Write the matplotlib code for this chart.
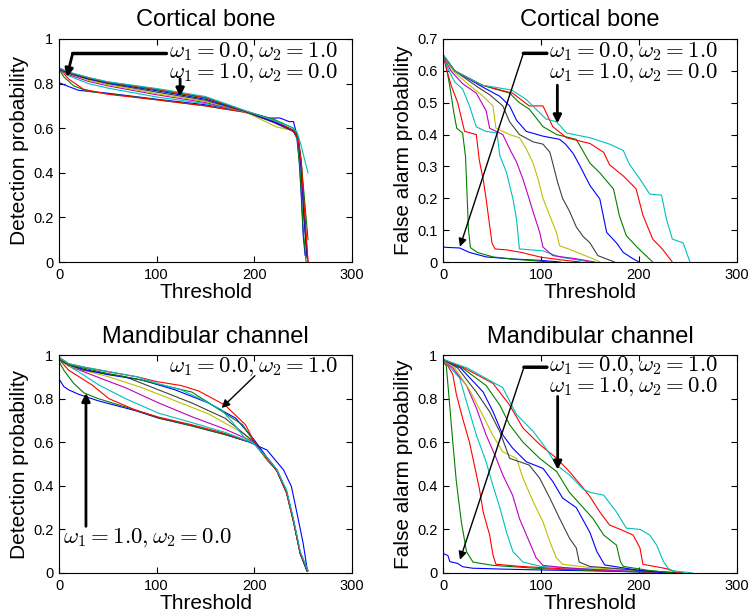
import matplotlib
matplotlib.use('Agg')
import matplotlib.pyplot as plt

plt.rcParams['font.family'] = ['Liberation Sans', 'DejaVu Sans']
plt.rcParams['mathtext.fontset'] = 'cm'

# MATLAB default colour order, 11 weightings (w1 = 1.0 ... 0.0)
colors = ['#0000ff', '#008000', '#ff0000', '#00bfbf', '#bf00bf', '#bfbf00',
          '#404040', '#0000ff', '#008000', '#ff0000', '#00bfbf']

# Cortical bone, detection probability
cort_det = [
    ([0, 5, 20, 50, 100, 150, 190, 215, 226, 236, 240, 243, 246, 248, 250, 252],
     [0.805, 0.795, 0.77, 0.757, 0.73, 0.705, 0.675, 0.645, 0.646, 0.629, 0.63, 0.58, 0.45, 0.3, 0.12, 0.03]),
    ([0, 5, 15, 30, 50, 100, 150, 190, 220, 240, 244, 247, 250, 253],
     [0.865, 0.83, 0.79, 0.765, 0.755, 0.728, 0.70, 0.672, 0.63, 0.59, 0.55, 0.4, 0.15, 0.0]),
    ([0, 10, 25, 50, 100, 150, 190, 220, 240, 245, 248, 251, 254, 255],
     [0.87, 0.82, 0.775, 0.752, 0.727, 0.70, 0.672, 0.63, 0.585, 0.55, 0.45, 0.25, 0.05, 0.0]),
    ([0, 10, 30, 50, 100, 150, 190, 220, 240, 245, 248, 251, 254],
     [0.865, 0.835, 0.80, 0.78, 0.74, 0.71, 0.675, 0.63, 0.59, 0.54, 0.4, 0.2, 0.02]),
    ([0, 10, 30, 50, 100, 150, 190, 220, 240, 245, 248, 251, 254],
     [0.865, 0.84, 0.81, 0.79, 0.75, 0.715, 0.675, 0.63, 0.59, 0.55, 0.42, 0.2, 0.02]),
    ([0, 10, 30, 50, 100, 150, 190, 223, 240, 245, 248, 251, 254],
     [0.865, 0.845, 0.815, 0.795, 0.755, 0.72, 0.675, 0.605, 0.59, 0.55, 0.42, 0.22, 0.03]),
    ([0, 10, 30, 50, 100, 150, 190, 220, 240, 245, 248, 251, 254],
     [0.865, 0.845, 0.82, 0.80, 0.762, 0.725, 0.676, 0.625, 0.585, 0.55, 0.42, 0.2, 0.02]),
    ([0, 10, 30, 50, 100, 150, 190, 220, 240, 245, 248, 251, 254],
     [0.865, 0.848, 0.822, 0.803, 0.768, 0.73, 0.677, 0.628, 0.59, 0.55, 0.42, 0.2, 0.03]),
    ([0, 10, 30, 50, 100, 150, 190, 220, 240, 245, 248, 251, 255],
     [0.87, 0.85, 0.825, 0.806, 0.772, 0.735, 0.678, 0.64, 0.60, 0.56, 0.45, 0.3, 0.1]),
    ([0, 10, 30, 50, 100, 150, 190, 220, 240, 245, 248, 251, 255],
     [0.87, 0.85, 0.826, 0.807, 0.775, 0.738, 0.678, 0.635, 0.59, 0.55, 0.45, 0.25, 0.0]),
    ([0, 10, 30, 50, 100, 150, 190, 220, 240, 244, 248, 252, 255],
     [0.87, 0.852, 0.828, 0.808, 0.778, 0.742, 0.68, 0.635, 0.60, 0.58, 0.52, 0.45, 0.40]),
]

# Cortical bone, false alarm probability
cort_fa = [
    ([0, 3, 17, 27, 44, 68, 100, 120],
     [0.047, 0.046, 0.044, 0.03, 0.016, 0.01, 0.005, 0.0]),
    ([0, 3, 7, 11, 14, 20, 23, 26, 28, 35, 51, 75, 110],
     [0.65, 0.62, 0.55, 0.47, 0.42, 0.405, 0.33, 0.1, 0.045, 0.03, 0.016, 0.008, 0.0]),
    ([0, 4, 8.5, 15, 22, 34, 37, 41, 44, 47.6, 50, 53, 65, 80, 100, 125, 140],
     [0.65, 0.6, 0.553, 0.50, 0.41, 0.40, 0.32, 0.26, 0.198, 0.114, 0.06, 0.041, 0.038, 0.03, 0.015, 0.005, 0.0]),
    ([0, 6, 12, 20, 27, 34, 44, 55, 58, 64.6, 68, 71.4, 75, 78, 102, 120, 150],
     [0.65, 0.6, 0.565, 0.543, 0.49, 0.424, 0.41, 0.405, 0.334, 0.283, 0.24, 0.198, 0.135, 0.041, 0.035, 0.015, 0.0]),
    ([0, 8, 20, 34, 44, 47.6, 61, 68, 75, 81.6, 86.7, 92, 98.6, 102, 112, 136, 155],
     [0.65, 0.6, 0.56, 0.53, 0.475, 0.42, 0.40, 0.355, 0.314, 0.26, 0.21, 0.157, 0.094, 0.047, 0.02, 0.01, 0.0]),
    ([0, 10, 25, 41, 51, 54, 68, 78, 85, 92, 97, 102, 109, 115.6, 119, 129, 153, 160],
     [0.65, 0.6, 0.56, 0.52, 0.49, 0.42, 0.40, 0.39, 0.355, 0.31, 0.26, 0.20, 0.145, 0.094, 0.051, 0.04, 0.01, 0.0]),
    ([0, 12, 35, 47.6, 61, 68, 78, 92, 102, 109, 112, 117, 122, 129, 136, 143, 150, 158, 175],
     [0.65, 0.6, 0.55, 0.525, 0.49, 0.44, 0.40, 0.377, 0.37, 0.345, 0.31, 0.25, 0.20, 0.16, 0.11, 0.08, 0.06, 0.02, 0.0]),
    ([0, 12, 40, 58, 68, 75, 85, 102, 119, 125, 133, 140, 145, 150, 160, 167, 177, 184, 194, 200],
     [0.65, 0.6, 0.55, 0.52, 0.49, 0.445, 0.41, 0.395, 0.385, 0.37, 0.34, 0.30, 0.27, 0.24, 0.198, 0.093, 0.06, 0.03, 0.01, 0.0]),
    ([0, 12, 40, 68, 78, 88, 102, 116, 136, 150, 160, 174, 180, 187, 197, 207, 214],
     [0.65, 0.6, 0.555, 0.53, 0.50, 0.48, 0.425, 0.40, 0.385, 0.31, 0.28, 0.229, 0.145, 0.083, 0.05, 0.02, 0.0]),
    ([0, 12, 40, 71, 88, 102, 112, 126, 150, 164, 170, 184, 197, 204, 214, 224, 234],
     [0.65, 0.6, 0.555, 0.53, 0.49, 0.49, 0.425, 0.39, 0.372, 0.344, 0.305, 0.27, 0.23, 0.147, 0.072, 0.04, 0.0]),
    ([0, 12, 40, 70, 85, 105, 116, 126, 150, 170, 184, 190, 201, 211, 223, 228, 234, 245, 252],
     [0.65, 0.6, 0.555, 0.54, 0.51, 0.449, 0.44, 0.405, 0.39, 0.37, 0.35, 0.308, 0.26, 0.213, 0.21, 0.135, 0.072, 0.06, 0.0]),
]

# Mandibular channel, detection probability
mand_det = [
    ([0, 5, 10, 20, 40, 78, 102, 136, 170, 195, 213, 230, 238, 243, 250, 254],
     [0.89, 0.855, 0.84, 0.82, 0.79, 0.745, 0.71, 0.675, 0.635, 0.6, 0.564, 0.472, 0.396, 0.289, 0.136, 0.02]),
    ([0, 5, 15, 25.6, 40, 78, 102, 136, 170, 200, 213, 223, 233, 240, 247, 254],
     [0.97, 0.93, 0.87, 0.826, 0.80, 0.748, 0.712, 0.675, 0.635, 0.595, 0.52, 0.47, 0.37, 0.24, 0.09, 0.01]),
    ([0, 10, 34, 51, 78, 102, 136, 170, 200, 213, 223, 233, 240, 247, 255],
     [0.98, 0.93, 0.862, 0.80, 0.748, 0.715, 0.68, 0.64, 0.595, 0.52, 0.47, 0.37, 0.24, 0.09, 0.01]),
    ([0, 10, 20, 41, 68, 102, 136, 170, 200, 213, 223, 233, 240, 247, 254],
     [0.98, 0.95, 0.923, 0.862, 0.80, 0.733, 0.69, 0.645, 0.595, 0.52, 0.47, 0.365, 0.235, 0.09, 0.01]),
    ([0, 10, 34, 68, 102, 136, 170, 200, 213, 223, 233, 240, 247, 254],
     [0.98, 0.95, 0.908, 0.85, 0.78, 0.717, 0.66, 0.6, 0.52, 0.47, 0.37, 0.24, 0.09, 0.01]),
    ([0, 10, 25, 51, 85, 119, 153, 185, 200, 213, 223, 233, 240, 247, 254],
     [0.98, 0.95, 0.93, 0.9, 0.85, 0.79, 0.73, 0.65, 0.6, 0.52, 0.47, 0.37, 0.24, 0.09, 0.01]),
    ([0, 10, 25, 68, 102, 136, 170, 200, 213, 223, 233, 240, 247, 254],
     [0.98, 0.955, 0.93, 0.9, 0.84, 0.78, 0.71, 0.6, 0.525, 0.47, 0.37, 0.24, 0.09, 0.01]),
    ([0, 10, 25, 50, 85, 119, 153, 181, 200, 213, 223, 233, 240, 247, 254],
     [0.98, 0.955, 0.935, 0.91, 0.885, 0.84, 0.78, 0.71, 0.61, 0.53, 0.475, 0.375, 0.245, 0.09, 0.01]),
    ([0, 10, 25, 50, 80, 102, 136, 164, 188, 200, 213, 223, 233, 240, 247, 254],
     [0.98, 0.955, 0.94, 0.915, 0.89, 0.866, 0.83, 0.75, 0.68, 0.6, 0.525, 0.47, 0.37, 0.24, 0.09, 0.01]),
    ([0, 10, 25, 50, 80, 100, 125, 143, 170, 191, 200, 213, 223, 233, 240, 247, 255],
     [0.99, 0.96, 0.945, 0.923, 0.9, 0.878, 0.86, 0.835, 0.77, 0.68, 0.60, 0.525, 0.47, 0.37, 0.24, 0.09, 0.01]),
    ([0, 10, 25, 50, 80, 100, 125, 144, 166, 178, 189, 200, 213, 223, 233, 240, 247, 255],
     [0.99, 0.96, 0.945, 0.925, 0.9, 0.87, 0.84, 0.80, 0.75, 0.69, 0.625, 0.59, 0.53, 0.475, 0.38, 0.25, 0.1, 0.01]),
]

# Mandibular channel, false alarm probability
mand_fa = [
    ([0, 5, 7, 15, 20, 30, 60, 100, 150, 200, 230],
     [0.09, 0.08, 0.052, 0.044, 0.029, 0.022, 0.018, 0.014, 0.01, 0.005, 0.0]),
    ([0, 3.4, 6.8, 10, 13.6, 18.7, 24, 30.6, 51, 100, 150, 200, 240],
     [0.97, 0.95, 0.77, 0.60, 0.42, 0.235, 0.098, 0.05, 0.035, 0.02, 0.012, 0.005, 0.0]),
    ([0, 5, 10, 13.6, 20, 27, 32, 37, 41, 47.6, 51, 54, 80, 120, 180, 240],
     [0.98, 0.95, 0.91, 0.82, 0.71, 0.60, 0.495, 0.39, 0.28, 0.174, 0.083, 0.04, 0.03, 0.02, 0.01, 0.0]),
    ([0, 8, 17, 24, 34, 44, 51, 58, 64.6, 71.4, 81.6, 100, 150, 200, 245],
     [0.98, 0.94, 0.894, 0.786, 0.633, 0.51, 0.40, 0.30, 0.19, 0.098, 0.05, 0.03, 0.018, 0.008, 0.0]),
    ([0, 10, 24, 34, 44, 54, 61, 71, 78, 88, 95, 102, 130, 180, 245],
     [0.98, 0.94, 0.86, 0.757, 0.633, 0.53, 0.45, 0.357, 0.25, 0.144, 0.07, 0.035, 0.022, 0.01, 0.0]),
    ([0, 12, 27, 41, 51, 61, 75, 81.6, 92, 102, 109, 115.6, 122, 150, 200, 245],
     [0.98, 0.94, 0.84, 0.72, 0.63, 0.556, 0.526, 0.435, 0.327, 0.235, 0.144, 0.07, 0.04, 0.025, 0.012, 0.0]),
    ([0, 15, 34, 47.6, 58, 68, 88, 98.6, 109, 119, 129, 136, 139, 150, 200, 245],
     [0.98, 0.94, 0.83, 0.74, 0.648, 0.526, 0.495, 0.435, 0.344, 0.25, 0.16, 0.115, 0.05, 0.03, 0.012, 0.0]),
    ([0, 18, 41, 51, 61, 71, 85, 102, 112, 122, 136, 150, 157, 165, 200, 230],
     [0.98, 0.94, 0.83, 0.74, 0.633, 0.573, 0.51, 0.48, 0.42, 0.344, 0.30, 0.185, 0.098, 0.037, 0.012, 0.0]),
    ([0, 20, 44, 58, 68, 81.6, 98.6, 116, 129, 143, 153, 164, 177, 181, 184, 210, 235],
     [0.98, 0.94, 0.86, 0.77, 0.68, 0.60, 0.526, 0.465, 0.37, 0.30, 0.25, 0.174, 0.128, 0.052, 0.03, 0.012, 0.0]),
    ([0, 22, 51, 68, 81.6, 98.6, 116, 129, 143, 150, 160, 170, 181, 194, 201, 204, 228, 240],
     [0.98, 0.94, 0.87, 0.77, 0.665, 0.59, 0.526, 0.465, 0.39, 0.35, 0.28, 0.22, 0.2, 0.174, 0.115, 0.04, 0.02, 0.0]),
    ([0, 25, 61, 75, 92, 105, 116, 129, 143, 150, 164, 177, 187, 201, 211, 218, 225, 230, 235, 255],
     [0.98, 0.94, 0.85, 0.727, 0.65, 0.572, 0.495, 0.45, 0.385, 0.37, 0.357, 0.28, 0.206, 0.2, 0.174, 0.128, 0.052, 0.02, 0.01, 0.0]),
]

label_a = r'$\omega_1 = 0.0, \omega_2 = 1.0$'
label_b = r'$\omega_1 = 1.0, \omega_2 = 0.0$'
label_ab = label_a + '\n' + label_b

fig = plt.figure(figsize=(7.49, 6.16), dpi=100)
W, H = 749.0, 616.0
ax_tl = fig.add_axes([59 / W, 1 - 262 / H, 293 / W, 223 / H])
ax_tr = fig.add_axes([443 / W, 1 - 262 / H, 294 / W, 223 / H])
ax_bl = fig.add_axes([59 / W, 1 - 573 / H, 293 / W, 218 / H])
ax_br = fig.add_axes([443 / W, 1 - 573 / H, 294 / W, 218 / H])

panels = [
    (ax_tl, cort_det, 'Cortical bone', 'Detection probability', 1.0, 0.2),
    (ax_tr, cort_fa, 'Cortical bone', 'False alarm probability', 0.7, 0.1),
    (ax_bl, mand_det, 'Mandibular channel', 'Detection probability', 1.0, 0.2),
    (ax_br, mand_fa, 'Mandibular channel', 'False alarm probability', 1.0, 0.2),
]

for ax, curves, title, ylab, ymax, ystep in panels:
    for (xs, ys), c in zip(curves, colors):
        ax.plot(xs, ys, '-', color=c, lw=0.8)
    ax.set_xlim(0, 300)
    ax.set_ylim(0, ymax)
    ax.set_xticks([0, 100, 200, 300])
    nt = int(round(ymax / ystep))
    ax.set_yticks([round(i * ystep, 2) for i in range(nt + 1)])
    ax.set_yticklabels(['%g' % round(i * ystep, 2) for i in range(nt + 1)])
    ax.tick_params(direction='in', top=True, right=True, length=4, width=0.8,
                   labelsize=10.5, pad=4)
    ax.set_title(title, fontsize=17, pad=9)
    ax.set_xlabel('Threshold', fontsize=15, labelpad=1)
    ax.set_ylabel(ylab, fontsize=15, labelpad=3)
    for s in ax.spines.values():
        s.set_linewidth(0.8)

tsize = 16.5
thick = dict(arrowstyle='-|>', lw=2, color='k', shrinkA=0, shrinkB=0, mutation_scale=12)
thin = dict(arrowstyle='-|>', lw=1, color='k', shrinkA=0, shrinkB=0, mutation_scale=12)
bar = dict(arrowstyle='-', lw=2.5, color='k', shrinkA=0, shrinkB=0)
kw = dict(fontsize=tsize, ha='left', va='baseline', linespacing=0.8)

# top left (va='baseline' on two lines anchors the second line)
ax_tl.text(113, 0.828, label_ab, **kw)
ax_tl.annotate('', xy=(14, 0.935), xytext=(110, 0.935), arrowprops=bar)
ax_tl.annotate('', xy=(8, 0.83), xytext=(14, 0.935), arrowprops=thick)
ax_tl.annotate('', xy=(124, 0.742), xytext=(124, 0.822), arrowprops=thick)

# top right
ax_tr.text(108, 0.579, label_ab, **kw)
ax_tr.annotate('', xy=(82, 0.655), xytext=(106, 0.655), arrowprops=bar)
ax_tr.annotate('', xy=(17.3, 0.048), xytext=(82, 0.655), arrowprops=thin)
ax_tr.annotate('', xy=(116.7, 0.435), xytext=(116.7, 0.555), arrowprops=thick)

# bottom left
ax_bl.text(113, 0.925, label_a, **kw)
ax_bl.text(4, 0.138, label_b, **kw)
ax_bl.annotate('', xy=(166.5, 0.757), xytext=(200.6, 0.905), arrowprops=thin)
ax_bl.annotate('', xy=(27.6, 0.826), xytext=(27.6, 0.214), arrowprops=thick)

# bottom right
ax_br.text(108, 0.833, label_ab, **kw)
ax_br.annotate('', xy=(82.6, 0.944), xytext=(106, 0.944), arrowprops=bar)
ax_br.annotate('', xy=(17.3, 0.061), xytext=(82.6, 0.944), arrowprops=thin)
ax_br.annotate('', xy=(117, 0.474), xytext=(117, 0.81), arrowprops=thick)

fig.savefig('out.png', dpi=100)
